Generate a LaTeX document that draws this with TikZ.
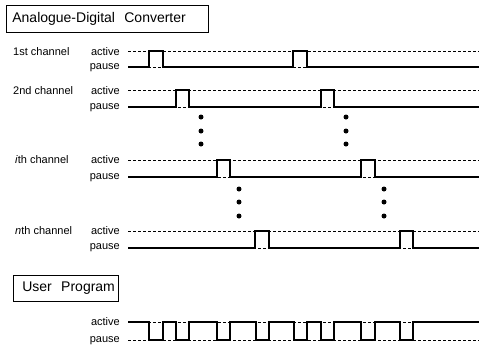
\documentclass[tikz,border=0pt]{standalone}
\usepackage{fontspec}
\setmainfont{Liberation Sans}
\begin{document}
\begin{tikzpicture}[x=1pt,y=-1pt,
  lbl/.style={font=\fontsize{11}{12}\selectfont, inner sep=0pt},
  titlebox/.style={draw, line width=0.7pt, anchor=north west, align=left,
    font=\fontsize{14}{16}\selectfont, inner ysep=0pt},
  wave/.style={line width=1.2pt, line join=miter},
  dotline/.style={line width=0.8pt, dash pattern=on 2.5pt off 2.5pt},
  blob/.style={circle, fill, inner sep=0pt, minimum size=5pt}]
\useasboundingbox (0,0) rectangle (480,346);

% title boxes
\node[titlebox, minimum height=27pt, inner xsep=6pt, text width=190pt] (adc) at (6,5) {\mbox{Analogue-Digital\ \ Converter}};
\node[titlebox, minimum height=26pt, inner xsep=9pt, text width=87pt] (user) at (13,275) {\mbox{User\ \ Program}};

% channel labels
\node[lbl, anchor=west] (c1) at (13,52) {1st channel};
\node[lbl, anchor=west] (c2) at (13,91) {2nd channel};
\node[lbl, anchor=west] (ci) at (15,160) {\textit{i}th channel};
\node[lbl, anchor=west] (cn) at (15,231) {\textit{n}th channel};

\foreach \n/\ya/\yp in {a1/52/68, a2/91/108, ai/160/178, an/231/248, au/322/341} {
  \node[lbl, anchor=east] (act\n) at (120,\ya) {active};
  \node[lbl, anchor=east] (pau\n) at (120,\yp) {pause};
}

% channel waveforms
\foreach \ya/\yp/\xa/\xb/\xc/\xd in {51/67/149/163/293/307, 90/107/176/189/321/334, 160/177/217/230/361/375, 231/248/255/269/400/413} {
  \draw[dotline] (128,\ya) -- (479,\ya);
  \draw[dotline] (128,\yp) -- (479,\yp);
  \draw[wave] (128,\yp) -- (\xa,\yp) -- (\xa,\ya) -- (\xb,\ya) -- (\xb,\yp)
     -- (\xc,\yp) -- (\xc,\ya) -- (\xd,\ya) -- (\xd,\yp) -- (479,\yp);
}

% continuation dots
\foreach \x/\y in {201/117, 201/131, 201/144, 346/117, 346/131, 346/144,
                   239/189, 239/202, 239/216, 384/189, 384/202, 384/216}
  \node[blob] at (\x,\y) {};

% user program waveform
\draw[dotline] (128,322) -- (479,322);
\draw[dotline] (128,340) -- (479,340);
\draw[wave] (128,322)
  -- (149,322) -- (149,340) -- (163,340) -- (163,322)
  -- (176,322) -- (176,340) -- (189,340) -- (189,322)
  -- (217,322) -- (217,340) -- (230,340) -- (230,322)
  -- (256,322) -- (256,340) -- (269,340) -- (269,322)
  -- (294,322) -- (294,340) -- (307,340) -- (307,322)
  -- (321,322) -- (321,340) -- (334,340) -- (334,322)
  -- (361,322) -- (361,340) -- (375,340) -- (375,322)
  -- (400,322) -- (400,340) -- (413,340) -- (413,322)
  -- (479,322);
\end{tikzpicture}
\end{document}
